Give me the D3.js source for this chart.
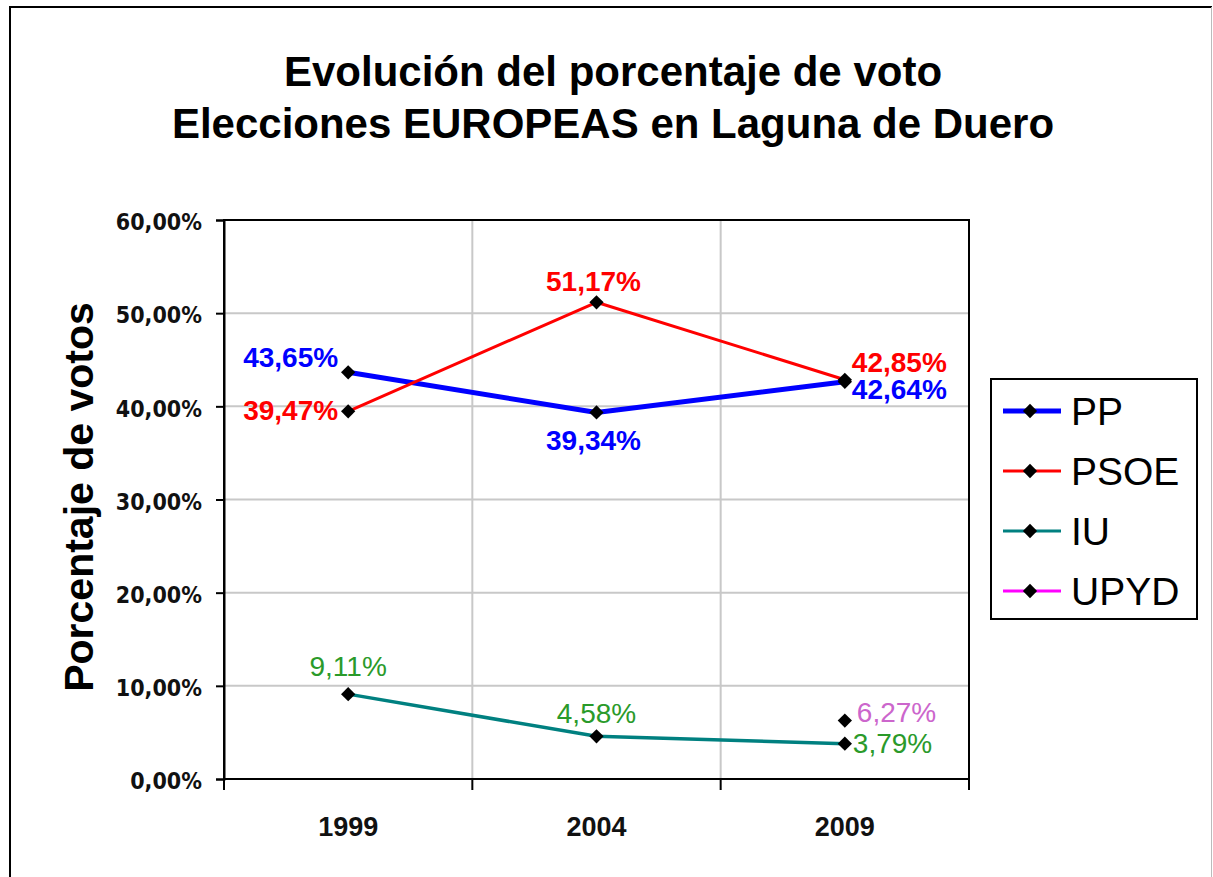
<!DOCTYPE html>
<html>
<head>
<meta charset="utf-8">
<script src="https://cdnjs.cloudflare.com/ajax/libs/d3/7.8.5/d3.min.js"></script>
<style>
  body { margin: 0; background: #fff; }
  svg { display: block; }
</style>
</head>
<body>
<div id="chart"></div>
<script>
// Data
const years = ['1999', '2004', '2009'];
const seriesNames = ['PP', 'PSOE', 'IU', 'UPYD'];
const ppValues = [43.65, 39.34, 42.64];
const psoeValues = [39.47, 51.17, 42.85];
const iuValues = [9.11, 4.58, 3.79];
const upydValues = [null, null, 6.27];
const yTicks = [0, 10, 20, 30, 40, 50, 60];

const titleLines = ['Evolución del porcentaje de voto', 'Elecciones EUROPEAS en Laguna de Duero'];
const yTitle = 'Porcentaje de votos';

// Spanish number format
const es = d3.formatLocale({ decimal: ',', thousands: '.', grouping: [3], currency: ['', '€'] });
const tickformat = es.format('.2f');
const labelformat = es.format('.2f');

const width = 1213, height = 877;
const plot = { left: 224, right: 969, top: 220, bottom: 779 };

const svg = d3.select('#chart').append('svg')
    .attr('width', width)
    .attr('height', height)
    .attr('font-family', 'Liberation Sans, Arial, sans-serif');

// outer frame
svg.append('line').attr('x1', 10).attr('x2', 10).attr('y1', 7).attr('y2', height)
    .attr('stroke', '#000').attr('stroke-width', 2);
svg.append('line').attr('x1', 9).attr('x2', 1212).attr('y1', 7).attr('y2', 7)
    .attr('stroke', '#000').attr('stroke-width', 2);
svg.append('line').attr('x1', 1211.5).attr('x2', 1211.5).attr('y1', 7).attr('y2', height)
    .attr('stroke', '#bbb').attr('stroke-width', 1);

// title
svg.append('g').selectAll('text')
    .data(titleLines)
    .enter().append('text')
    .attr('x', 613)
    .attr('y', (d, i) => 86 + i * 52)
    .attr('text-anchor', 'middle')
    .style('font-weight', 700)
    .style('font-size', '42px')
    .text(d => d);

var x = d3.scaleBand().domain(years).range([plot.left, plot.right]).padding(0);
var y = d3.scaleLinear().domain([0, 60]).range([plot.bottom, plot.top]);

// gridlines
var grid = svg.append('g');
grid.selectAll('.hgrid')
    .data(yTicks.slice(1, -1))
    .enter().append('line')
    .attr('x1', plot.left).attr('x2', plot.right)
    .attr('y1', d => y(d)).attr('y2', d => y(d))
    .attr('stroke', '#c8c8c8').attr('stroke-width', 2);
grid.selectAll('.vgrid')
    .data(years.slice(1))
    .enter().append('line')
    .attr('x1', d => x(d)).attr('x2', d => x(d))
    .attr('y1', plot.top).attr('y2', plot.bottom)
    .attr('stroke', '#c8c8c8').attr('stroke-width', 2);

// plot border
svg.append('rect')
    .attr('x', plot.left).attr('y', plot.top)
    .attr('width', plot.right - plot.left).attr('height', plot.bottom - plot.top)
    .attr('fill', 'none').attr('stroke', '#000').attr('stroke-width', 2);

// y axis
var yAxis = d3.axisLeft(y).tickValues(yTicks).tickSize(8).tickPadding(14)
    .tickFormat(d => tickformat(d) + '%');
svg.append('g')
    .attr('transform', `translate(${plot.left},0)`)
    .call(yAxis)
    .call(g => g.select('.domain').attr('stroke-width', 2))
    .call(g => g.selectAll('.tick line').attr('stroke-width', 2))
    .call(g => g.selectAll('.tick text')
        .attr('dy', '0.42em')
        .style('font-family', 'DejaVu Sans Condensed, DejaVu Sans, sans-serif')
        .style('font-weight', 700)
        .style('font-size', '23px')
        .style('fill', '#111'));

// x axis: ticks on band boundaries
var xAxisG = svg.append('g');
xAxisG.selectAll('.xtick')
    .data(years.concat(['end']))
    .enter().append('line')
    .attr('x1', d => d === 'end' ? plot.right : x(d))
    .attr('x2', d => d === 'end' ? plot.right : x(d))
    .attr('y1', plot.bottom).attr('y2', plot.bottom + 11)
    .attr('stroke', '#000').attr('stroke-width', 2);
xAxisG.selectAll('.xlabel')
    .data(years)
    .enter().append('text')
    .attr('x', d => x(d) + x.bandwidth() / 2)
    .attr('y', 836)
    .attr('text-anchor', 'middle')
    .style('font-weight', 700)
    .style('font-size', '27px')
    .style('fill', '#111')
    .text(d => d);

// y title
svg.append('text')
    .attr('transform', 'translate(93, 497) rotate(-90)')
    .attr('text-anchor', 'middle')
    .style('font-weight', 700)
    .style('font-size', '41px')
    .text(yTitle);

// series
const cx = i => x(years[i]) + x.bandwidth() / 2;
const series = [
    { name: 'PP', values: ppValues, color: '#0000ff', width: 5, labelColor: '#0000ff', bold: true,
      place: [{ dx: -10, dy: -5, anchor: 'end' }, { dx: -3, dy: 38, anchor: 'middle' }, { dx: 7, dy: 17, anchor: 'start' }] },
    { name: 'PSOE', values: psoeValues, color: '#ff0000', width: 3, labelColor: '#ff0000', bold: true,
      place: [{ dx: -10, dy: 9, anchor: 'end' }, { dx: -3, dy: -11, anchor: 'middle' }, { dx: 7, dy: -8, anchor: 'start' }] },
    { name: 'IU', values: iuValues, color: '#008080', width: 3.5, labelColor: '#2a9a2a', bold: false,
      place: [{ dx: 0, dy: -18, anchor: 'middle' }, { dx: 0, dy: -13, anchor: 'middle' }, { dx: 8, dy: 9, anchor: 'start' }] },
    { name: 'UPYD', values: upydValues, color: '#ff00ff', width: 3, labelColor: '#cc66cc', bold: false,
      place: [null, null, { dx: 12, dy: 1, anchor: 'start' }] }
];

var line = d3.line()
    .defined(d => d.v != null)
    .x(d => cx(d.i))
    .y(d => y(d.v));

var diamond = d3.symbol().type(d3.symbolDiamond2).size(130);

series.forEach(s => {
    var pts = s.values.map((v, i) => ({ v: v, i: i }));
    var g = svg.append('g');
    g.append('path')
        .datum(pts)
        .attr('d', line)
        .attr('fill', 'none')
        .attr('stroke', s.color)
        .attr('stroke-width', s.width)
        .attr('stroke-linejoin', 'round');
    g.selectAll('.pt')
        .data(pts.filter(d => d.v != null))
        .enter().append('path')
        .attr('transform', d => `translate(${cx(d.i)},${y(d.v)})`)
        .attr('d', diamond)
        .attr('fill', '#000');
    g.selectAll('.lbl')
        .data(pts.filter(d => d.v != null))
        .enter().append('text')
        .attr('x', d => cx(d.i) + s.place[d.i].dx)
        .attr('y', d => y(d.v) + s.place[d.i].dy)
        .attr('text-anchor', d => s.place[d.i].anchor)
        .style('font-weight', s.bold ? 700 : 400)
        .style('font-size', s.bold ? '28px' : '28px')
        .style('fill', s.labelColor)
        .text(d => labelformat(d.v) + '%');
});

// legend
var legend = svg.append('g').attr('transform', 'translate(991,379)');
legend.append('rect')
    .attr('width', 206).attr('height', 240)
    .attr('fill', '#fff').attr('stroke', '#000').attr('stroke-width', 2);
var item = legend.selectAll('.item')
    .data(series)
    .enter().append('g')
    .attr('transform', (d, i) => `translate(0,${32 + i * 60})`);
item.append('line')
    .attr('x1', 12).attr('x2', 70)
    .attr('stroke', d => d.color)
    .attr('stroke-width', d => d.name === 'PP' ? 5 : 3);
item.append('path')
    .attr('transform', 'translate(39,0)')
    .attr('d', diamond)
    .attr('fill', '#000');
item.append('text')
    .attr('x', 80)
    .attr('y', 14)
    .style('font-size', '39px')
    .text(d => d.name);
</script>
</body>
</html>
